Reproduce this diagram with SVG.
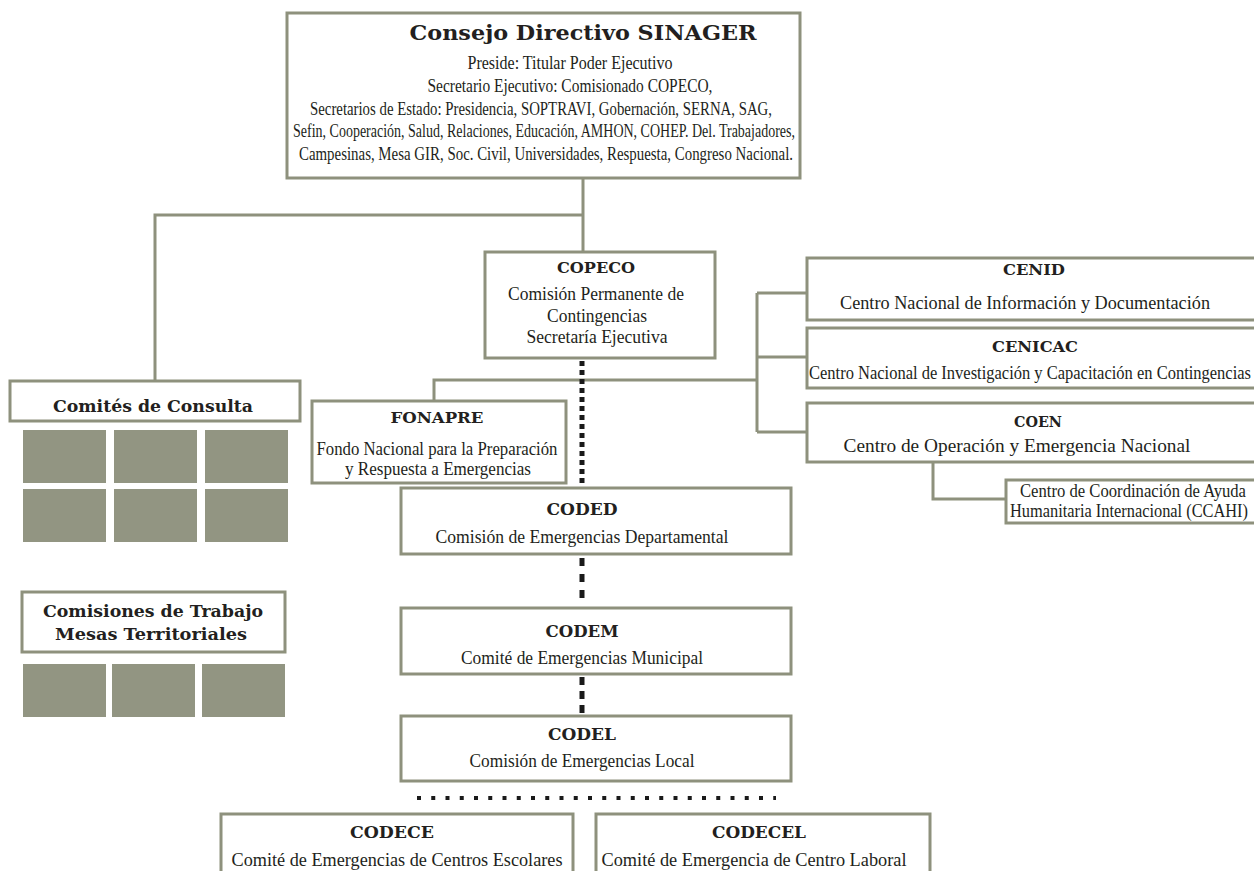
<svg xmlns="http://www.w3.org/2000/svg" width="1254" height="871" viewBox="0 0 1254 871">
<style>
.box{fill:#fff;stroke:#8e917d;stroke-width:3}
.conn{fill:none;stroke:#8e917d;stroke-width:3}
.dash{fill:none;stroke:#1a1a1a;stroke-width:5}
.sq{fill:#929582}
.t{font-family:"DejaVu Serif",serif;font-weight:bold;fill:#231f20;text-anchor:middle}
.b{font-family:"Liberation Serif",serif;fill:#231f20;text-anchor:middle;font-size:18px}
</style>
<rect width="1254" height="871" fill="#fff"/>
<g id="connectors">
<path class="conn" d="M583 178V252M583 215H155V381"/>
<path class="conn" d="M434 401V380H757M757 293V432M757 293H807M757 357H807M757 432H807"/>
<path class="conn" d="M933 462V499H1006"/>
<path class="dash" d="M582 361V488" stroke-dasharray="5 4"/>
<path class="dash" d="M582 558V606" stroke-dasharray="8 8"/>
<path class="dash" d="M582 677V716" stroke-dasharray="8 6"/>
<path d="M417 798H776" stroke="#1a1a1a" stroke-width="4" stroke-dasharray="4 10.25"/>
</g>
<g id="consejo">
<rect class="box" x="287" y="13" width="513" height="165"/>
<text class="t" x="583" y="40" font-size="20" textLength="347" lengthAdjust="spacingAndGlyphs">Consejo Directivo SINAGER</text>
<text class="b" x="570" y="69" textLength="205" lengthAdjust="spacingAndGlyphs">Preside: Titular Poder Ejecutivo</text>
<text class="b" x="570" y="92" textLength="285" lengthAdjust="spacingAndGlyphs">Secretario Ejecutivo: Comisionado COPECO,</text>
<text class="b" x="541" y="115" textLength="462" lengthAdjust="spacingAndGlyphs">Secretarios de Estado: Presidencia, SOPTRAVI, Gobernación, SERNA, SAG,</text>
<text class="b" x="544" y="137" textLength="502" lengthAdjust="spacingAndGlyphs">Sefin, Cooperación, Salud, Relaciones, Educación, AMHON, COHEP. Del. Trabajadores,</text>
<text class="b" x="546" y="160" textLength="494" lengthAdjust="spacingAndGlyphs">Campesinas, Mesa GIR, Soc. Civil, Universidades, Respuesta, Congreso Nacional.</text>
</g>
<g id="copeco">
<rect class="box" x="485" y="252" width="230" height="106"/>
<text class="t" x="596" y="273" font-size="15.5" textLength="78" lengthAdjust="spacingAndGlyphs">COPECO</text>
<text class="b" x="596" y="300" textLength="176" lengthAdjust="spacingAndGlyphs">Comisión Permanente de</text>
<text class="b" x="597" y="322" textLength="100" lengthAdjust="spacingAndGlyphs">Contingencias</text>
<text class="b" x="597" y="343" textLength="141" lengthAdjust="spacingAndGlyphs">Secretaría Ejecutiva</text>
</g>
<g id="comites">
<rect class="box" x="10" y="381" width="290" height="40"/>
<text class="t" x="153" y="412" font-size="16" textLength="200" lengthAdjust="spacingAndGlyphs">Comités de Consulta</text>
<rect class="sq" x="23" y="430" width="83" height="53"/>
<rect class="sq" x="114" y="430" width="83" height="53"/>
<rect class="sq" x="205" y="430" width="83" height="53"/>
<rect class="sq" x="23" y="489" width="83" height="53"/>
<rect class="sq" x="114" y="489" width="83" height="53"/>
<rect class="sq" x="205" y="489" width="83" height="53"/>
</g>
<g id="comisiones">
<rect class="box" x="22" y="592" width="263" height="60"/>
<text class="t" x="153" y="617" font-size="16" textLength="220" lengthAdjust="spacingAndGlyphs">Comisiones de Trabajo</text>
<text class="t" x="151" y="640" font-size="16" textLength="192" lengthAdjust="spacingAndGlyphs">Mesas Territoriales</text>
<rect class="sq" x="23" y="664" width="83" height="53"/>
<rect class="sq" x="112" y="664" width="83" height="53"/>
<rect class="sq" x="202" y="664" width="83" height="53"/>
</g>
<g id="fonapre">
<rect class="box" x="312" y="401" width="254" height="82"/>
<text class="t" x="437" y="423" font-size="15.5" textLength="93" lengthAdjust="spacingAndGlyphs">FONAPRE</text>
<text class="b" x="437" y="455" textLength="241" lengthAdjust="spacingAndGlyphs">Fondo Nacional para la Preparación</text>
<text class="b" x="438" y="475" textLength="186" lengthAdjust="spacingAndGlyphs">y Respuesta a Emergencias</text>
</g>
<g id="cenid">
<rect class="box" x="807" y="258" width="460" height="62"/>
<text class="t" x="1034" y="275" font-size="15.5" textLength="62" lengthAdjust="spacingAndGlyphs">CENID</text>
<text class="b" x="1025" y="309" textLength="370" lengthAdjust="spacingAndGlyphs">Centro Nacional de Información y Documentación</text>
</g>
<g id="cenicac">
<rect class="box" x="807" y="328" width="460" height="60"/>
<text class="t" x="1035" y="352" font-size="15.5" textLength="86" lengthAdjust="spacingAndGlyphs">CENICAC</text>
<text class="b" x="1030" y="379" textLength="442" lengthAdjust="spacingAndGlyphs">Centro Nacional de Investigación y Capacitación en Contingencias</text>
</g>
<g id="coen">
<rect class="box" x="807" y="403" width="460" height="59"/>
<text class="t" x="1038" y="427" font-size="15.5" textLength="48" lengthAdjust="spacingAndGlyphs">COEN</text>
<text class="b" x="1017" y="452" textLength="347" lengthAdjust="spacingAndGlyphs">Centro de Operación y Emergencia Nacional</text>
</g>
<g id="ccahi">
<rect class="box" x="1006" y="480" width="260" height="43"/>
<text class="b" x="1133" y="497" textLength="226" lengthAdjust="spacingAndGlyphs">Centro de Coordinación de Ayuda</text>
<text class="b" x="1129" y="517" textLength="238" lengthAdjust="spacingAndGlyphs">Humanitaria Internacional (CCAHI)</text>
</g>
<g id="coded">
<rect class="box" x="401" y="488" width="390" height="66"/>
<text class="t" x="582" y="515" font-size="16.5" textLength="71" lengthAdjust="spacingAndGlyphs">CODED</text>
<text class="b" x="582" y="543" textLength="293" lengthAdjust="spacingAndGlyphs">Comisión de Emergencias Departamental</text>
</g>
<g id="codem">
<rect class="box" x="401" y="608" width="390" height="66"/>
<text class="t" x="582" y="637" font-size="16.5" textLength="73" lengthAdjust="spacingAndGlyphs">CODEM</text>
<text class="b" x="582" y="664" textLength="242" lengthAdjust="spacingAndGlyphs">Comité de Emergencias Municipal</text>
</g>
<g id="codel">
<rect class="box" x="401" y="716" width="390" height="65"/>
<text class="t" x="582" y="740" font-size="16.5" textLength="68" lengthAdjust="spacingAndGlyphs">CODEL</text>
<text class="b" x="582" y="767" textLength="225" lengthAdjust="spacingAndGlyphs">Comisión de Emergencias Local</text>
</g>
<g id="codece">
<rect class="box" x="221" y="814" width="352" height="70"/>
<text class="t" x="392" y="838" font-size="16.5" textLength="84" lengthAdjust="spacingAndGlyphs">CODECE</text>
<text class="b" x="397" y="866" textLength="331" lengthAdjust="spacingAndGlyphs">Comité de Emergencias de Centros Escolares</text>
</g>
<g id="codecel">
<rect class="box" x="596" y="814" width="334" height="70"/>
<text class="t" x="759" y="838" font-size="16.5" textLength="94" lengthAdjust="spacingAndGlyphs">CODECEL</text>
<text class="b" x="754" y="866" textLength="305" lengthAdjust="spacingAndGlyphs">Comité de Emergencia de Centro Laboral</text>
</g>
</svg>
